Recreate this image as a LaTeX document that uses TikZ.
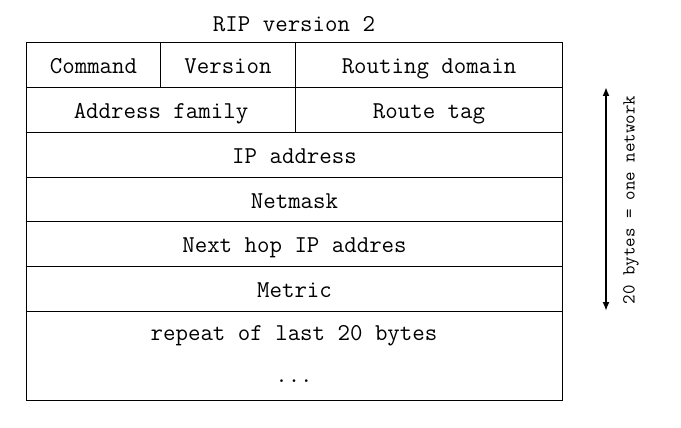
\documentclass[tikz,border=0pt]{standalone}
\usepackage{fontspec}
\usetikzlibrary{arrows.meta}
\begin{document}
\begin{tikzpicture}[x=1pt,y=-1pt,
  mono/.style={font=\ttfamily\fontsize{24.2}{27}\selectfont,text height=23pt,text depth=6pt},
  cell/.style={mono,draw,line width=1pt,inner sep=0pt,anchor=north west},
  txt/.style={mono,inner sep=0pt},
  side/.style={inner sep=0pt,font=\ttfamily\fontsize{18.4}{20}\selectfont}]
\useasboundingbox (0,0) rectangle (681,428);
\node[txt] (title) at (294,23.4) {RIP version 2};
\node[cell,minimum width=134pt,minimum height=45pt] (cmd) at (26,42) {Command};
\node[cell,minimum width=135pt,minimum height=45pt] (ver) at (160,42) {Version};
\node[cell,minimum width=267pt,minimum height=45pt] (dom) at (295,42) {Routing domain};
\node[cell,minimum width=269pt,minimum height=45pt] (fam) at (26,87) {Address family};
\node[cell,minimum width=267pt,minimum height=45pt] (tag) at (295,87) {Route tag};
\node[cell,minimum width=536pt,minimum height=45pt] (ip) at (26,132) {IP address};
\node[cell,minimum width=536pt,minimum height=44pt] (mask) at (26,177) {Netmask};
\node[cell,minimum width=536pt,minimum height=45pt] (hop) at (26,221) {Next hop IP addres};
\node[cell,minimum width=536pt,minimum height=45pt] (met) at (26,266) {Metric};
\node[cell,minimum width=536pt,minimum height=89pt] (rep) at (26,311) {};
\node[txt] (reptxt) at (294,331.5) {repeat of last 20 bytes};
\node[txt] (dots) at (294,373.5) {...};
\coordinate (atop) at (606,87);
\coordinate (abot) at (606,311);
\draw[line width=2pt,{Latex[length=9pt,width=7pt]}-{Latex[length=9pt,width=7pt]}] (atop) -- (abot);
\node[side,rotate=90] (lbl) at (631,200) {20 bytes = one network};
\end{tikzpicture}
\end{document}
